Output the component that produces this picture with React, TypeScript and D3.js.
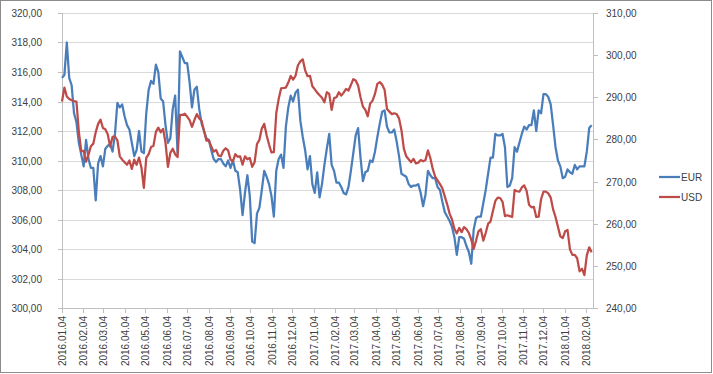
import React, { useEffect, useRef } from "react";
import * as d3 from "d3";

// readings every half week (3.5 days), starting 2016.01.04
const startDate = new Date(2016, 0, 4);
const endDate = new Date(2018, 1, 14);
const stepHours = 84;

const eurValues = [
  315.6, 315.8, 318.0, 315.6, 315.1, 313.2, 312.6, 311.2, 310.4, 309.6,
  311.4, 310.1, 309.5, 309.5, 307.3, 309.8, 310.3, 309.6, 310.8, 311.0,
  311.1, 310.6, 311.8, 313.9, 313.6, 313.8, 313.0, 312.4, 312.1, 311.2,
  310.3, 310.7, 312.0, 310.6, 310.5, 313.2, 314.8, 315.4, 315.2, 316.5,
  316.0, 314.2, 314.0, 312.4, 311.2, 311.5, 313.5, 314.4, 310.5, 317.4,
  317.0, 316.6, 316.6, 315.3, 313.6, 314.8, 315.0, 313.5, 312.5, 312.0,
  311.5, 311.4, 310.7, 310.1, 309.9, 310.1, 310.1, 309.8, 309.6, 310.0,
  309.5, 310.0, 309.3, 309.2, 308.0, 306.3, 307.8, 309.0, 307.6, 304.5,
  304.4, 306.4, 306.8, 308.0, 309.3, 308.9, 308.4, 307.6, 306.2, 309.3,
  310.1, 310.4, 309.5, 312.3, 313.6, 314.4, 314.0, 314.6, 314.8, 312.7,
  311.6, 310.7, 309.4, 310.3, 308.4, 307.8, 309.2, 307.5, 308.4, 309.7,
  310.8, 311.8, 309.7, 309.3, 308.5, 308.5, 308.2, 307.8, 307.7, 308.2,
  309.3, 310.5, 311.7, 312.2, 310.2, 308.6, 309.2, 309.3, 310.0, 309.9,
  310.6, 311.6, 312.5, 313.3, 313.4, 312.3, 311.9, 311.9, 312.1, 311.3,
  310.3, 309.1, 309.0, 308.9, 308.4, 308.2, 308.3, 308.3, 308.4, 307.8,
  306.9, 307.7, 309.3, 309.0, 308.8, 308.8, 308.2, 308.0, 307.2, 306.5,
  306.2, 305.9, 305.5, 304.8, 303.6, 304.8, 304.8, 304.7, 304.2, 303.8,
  303.0, 305.3, 306.1, 306.2, 306.2, 307.1, 308.0, 309.1, 310.2, 310.2,
  311.8, 311.7, 311.7, 311.8, 310.9, 308.2, 308.3, 308.8, 310.9, 310.6,
  311.2, 311.8, 312.3, 312.1, 312.4, 312.4, 313.4, 312.0, 313.4, 313.2,
  314.5, 314.5, 314.3, 313.8, 312.4, 310.9, 310.0, 309.6, 308.8, 308.9,
  309.4, 309.2, 309.1, 309.7, 309.4, 309.6, 309.6, 309.6, 310.6, 312.2, 312.4
];

const usdValues = [
  289.0, 292.3, 290.2, 289.6, 289.3, 289.1, 289.0, 281.8, 277.2, 277.3,
  274.7, 276.4, 278.4, 279.0, 281.7, 283.7, 284.7, 282.7, 282.4, 281.2,
  278.3, 280.6, 280.7, 279.8, 276.0, 275.2, 274.6, 274.0, 275.0, 273.0,
  275.2, 274.0, 275.7, 273.3, 268.5, 275.6, 276.5, 278.2, 278.5, 281.8,
  282.8, 281.7, 282.5, 279.2, 273.5, 276.8, 277.8, 276.5, 275.8, 285.8,
  285.8, 286.1, 285.4, 284.6, 283.0, 284.6, 286.0, 285.0, 284.4, 282.0,
  279.7, 279.8, 278.3, 277.1, 277.5, 276.2, 276.0, 277.3, 277.9, 277.4,
  275.2, 274.8, 276.5, 275.9, 276.0, 274.0, 276.0, 275.3, 275.6, 273.5,
  274.6, 278.9, 279.9, 282.6, 283.7, 281.0, 278.8, 276.9, 277.0, 286.2,
  289.6, 292.1, 292.2, 292.3, 293.5, 295.1, 294.2, 295.1, 297.6, 298.5,
  299.0, 296.4, 295.0, 295.1, 292.6, 291.9, 291.1, 290.5, 289.9, 288.8,
  291.2, 290.8, 287.0, 289.8, 290.0, 291.2, 290.4, 291.1, 292.0, 291.6,
  292.9, 294.3, 294.0, 292.8, 290.0, 287.8, 287.0, 285.5, 288.5, 289.2,
  290.8, 293.2, 293.6, 293.0, 291.8, 287.2, 286.6, 286.0, 286.2, 286.0,
  285.0, 282.2, 277.8, 276.0, 275.3, 274.6, 275.4, 274.3, 274.5, 275.1,
  274.8, 275.1, 277.4, 275.6, 273.0, 271.2, 270.3, 269.4, 268.4, 266.5,
  264.6, 262.4, 261.0, 258.8, 257.7, 259.0, 258.0, 259.2, 258.7, 257.8,
  256.2, 254.0, 256.0, 258.2, 258.7, 256.0, 257.8, 260.0, 260.5, 263.0,
  265.4, 266.2, 266.1, 265.2, 261.8, 262.0, 261.8, 261.6, 268.0, 267.7,
  267.6, 268.6, 269.1, 267.8, 264.5, 263.9, 264.0, 261.6, 261.7, 265.8,
  267.6, 267.6, 267.2, 266.2, 263.4, 261.6, 259.3, 257.0, 256.6, 258.2,
  258.5, 253.9, 252.6, 252.6, 251.8, 248.7, 249.3, 247.8, 252.5, 254.4, 253.2
];

const tickLabels = [
  "2016.01.04", "2016.02.04", "2016.03.04", "2016.04.04", "2016.05.04", "2016.06.04",
  "2016.07.04", "2016.08.04", "2016.09.04", "2016.10.04", "2016.11.04", "2016.12.04",
  "2017.01.04", "2017.02.04", "2017.03.04", "2017.04.04", "2017.05.04", "2017.06.04",
  "2017.07.04", "2017.08.04", "2017.09.04", "2017.10.04", "2017.11.04", "2017.12.04",
  "2018.01.04", "2018.02.04"
];
const leftTicks = [300, 302, 304, 306, 308, 310, 312, 314, 316, 318, 320];
const rightTicks = [240, 250, 260, 270, 280, 290, 300, 310];
const seriesNames = ["EUR", "USD"];
const seriesColors = ["#4a7ebb", "#be4b48"];

const W = 713, H = 374;
const margin = { left: 62, right: 120, top: 13, bottom: 66 };

export default function App() {
  const ref = useRef<SVGSVGElement>(null);

  useEffect(() => {
    const svg = d3.select(ref.current);
    svg.selectAll("*").remove();

    const x0 = margin.left, x1 = W - margin.right;
    const y0 = H - margin.bottom, y1 = margin.top;

    const x = d3.scaleTime().domain([startDate, endDate]).range([x0, x1]);
    const yL = d3.scaleLinear().domain([300, 320]).range([y0, y1]);
    const yR = d3.scaleLinear().domain([240, 310]).range([y0, y1]);
    const fmt = (v: number) => d3.format(".2f")(v).replace(".", ",");
    const parse = d3.timeParse("%Y.%m.%d");
    const dateAt = (i: number) => d3.timeHour.offset(startDate, stepHours * i);

    svg.append("rect").attr("x", 0.5).attr("y", 0.5).attr("width", W - 2).attr("height", H - 2)
      .attr("fill", "#fff").attr("stroke", "#8c8c8c");

    // gridlines
    svg.append("g").selectAll("line").data(leftTicks.slice(1)).enter().append("line")
      .attr("x1", x0).attr("x2", x1)
      .attr("y1", d => Math.round(yL(d)) + 0.5).attr("y2", d => Math.round(yL(d)) + 0.5)
      .attr("stroke", "#d9d9d9");

    const axisColor = "#bfbfbf";
    const textColor = "#404040";
    const font = "'Liberation Sans', Arial, sans-serif";

    // left axis
    const gl = svg.append("g");
    gl.append("line").attr("x1", x0 + 0.5).attr("x2", x0 + 0.5).attr("y1", y1).attr("y2", y0)
      .attr("stroke", axisColor);
    leftTicks.forEach(t => {
      const yy = Math.round(yL(t)) + 0.5;
      gl.append("line").attr("x1", x0 - 4).attr("x2", x0).attr("y1", yy).attr("y2", yy).attr("stroke", axisColor);
      gl.append("text").attr("x", 42).attr("y", yy).attr("dy", "0.35em").attr("text-anchor", "end")
        .attr("font-family", font).attr("font-size", 10).attr("fill", textColor).text(fmt(t));
    });

    // right axis
    const gr = svg.append("g");
    gr.append("line").attr("x1", x1 + 0.5).attr("x2", x1 + 0.5).attr("y1", y1).attr("y2", y0)
      .attr("stroke", axisColor);
    rightTicks.forEach(t => {
      const yy = Math.round(yR(t)) + 0.5;
      gr.append("line").attr("x1", x1).attr("x2", x1 + 5).attr("y1", yy).attr("y2", yy).attr("stroke", axisColor);
      gr.append("text").attr("x", 606).attr("y", yy).attr("dy", "0.35em")
        .attr("font-family", font).attr("font-size", 10).attr("fill", textColor).text(fmt(t));
    });

    // bottom axis
    const gb = svg.append("g");
    gb.append("line").attr("x1", x0).attr("x2", x1 + 0.5).attr("y1", y0 + 0.5).attr("y2", y0 + 0.5)
      .attr("stroke", axisColor);
    tickLabels.forEach(lbl => {
      const xx = Math.round(x(parse(lbl) as Date)) + 0.5;
      gb.append("line").attr("x1", xx).attr("x2", xx).attr("y1", y0).attr("y2", y0 + 5).attr("stroke", axisColor);
      gb.append("text").attr("transform", `translate(${xx},${y0 + 8}) rotate(-90)`)
        .attr("dy", "0.35em").attr("text-anchor", "end")
        .attr("font-family", font).attr("font-size", 10).attr("fill", textColor).text(lbl);
    });

    // series
    const lineL = d3.line<number>().x((_, i) => x(dateAt(i))).y(d => yL(d));
    const lineR = d3.line<number>().x((_, i) => x(dateAt(i))).y(d => yR(d));
    svg.append("path").datum(eurValues).attr("d", lineL).attr("fill", "none")
      .attr("stroke", seriesColors[0]).attr("stroke-width", 2.25).attr("stroke-linejoin", "round");
    svg.append("path").datum(usdValues).attr("d", lineR).attr("fill", "none")
      .attr("stroke", seriesColors[1]).attr("stroke-width", 2.25).attr("stroke-linejoin", "round");

    // legend
    const lg = svg.append("g");
    seriesNames.forEach((name, i) => {
      const yy = 177 + i * 20;
      lg.append("line").attr("x1", 659).attr("x2", 680).attr("y1", yy).attr("y2", yy)
        .attr("stroke", seriesColors[i]).attr("stroke-width", 2.25);
      lg.append("text").attr("x", 681).attr("y", yy).attr("dy", "0.35em")
        .attr("font-family", font).attr("font-size", 10).attr("fill", textColor).text(name);
    });
  }, []);

  return (
    <svg ref={ref} width={W} height={H}
      style={{ position: "absolute", left: 0, top: 0, display: "block" }} />
  );
}
